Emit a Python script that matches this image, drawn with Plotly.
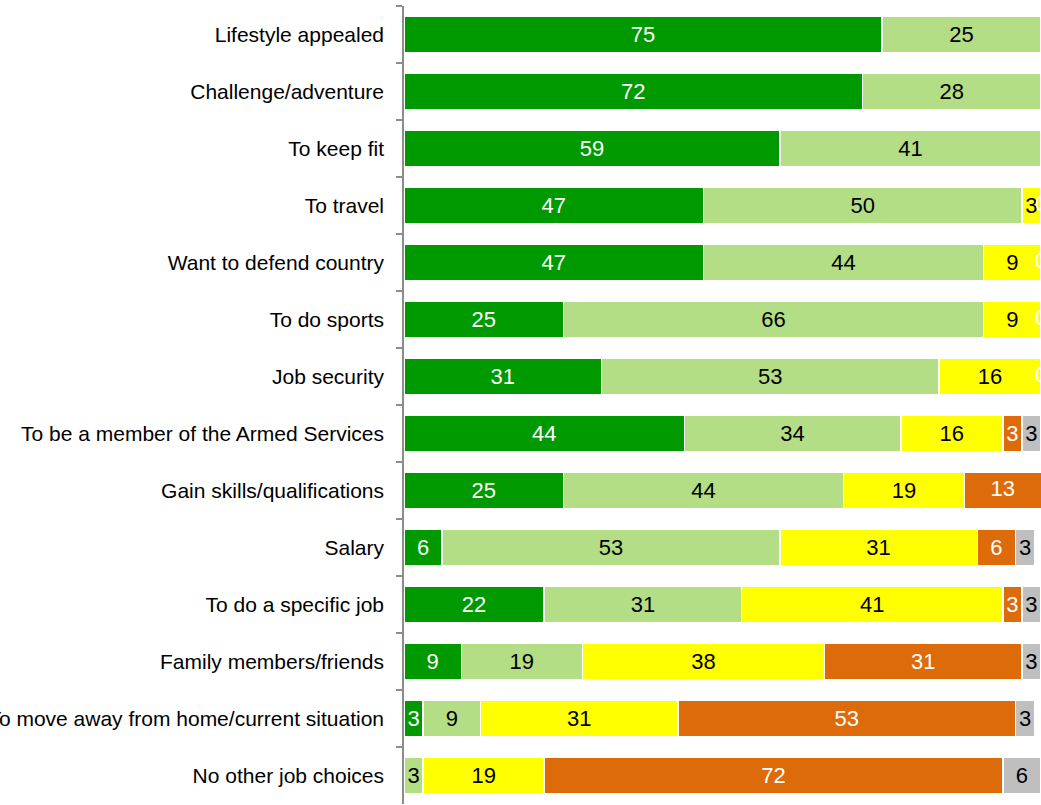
import plotly.graph_objects as go

# Reasons for joining, listed top to bottom
reasons = [
    "Lifestyle appealed",
    "Challenge/adventure",
    "To keep fit",
    "To travel",
    "Want to defend country",
    "To do sports",
    "Job security",
    "To be a member of the Armed Services",
    "Gain skills/qualifications",
    "Salary",
    "To do a specific job",
    "Family members/friends",
    "To move away from home/current situation",
    "No other job choices",
]

# Percentage of respondents per importance rating (None = no segment)
very_important = [75, 72, 59, 47, 47, 25, 31, 44, 25, 6, 22, 9, 3, None]
fairly_important = [25, 28, 41, 50, 44, 66, 53, 34, 44, 53, 31, 19, 9, 3]
not_very_important = [None, None, None, 3, 9, 9, 16, 16, 19, 31, 41, 38, 31, 19]
not_important = [None, None, None, 0, 0, 0, 0, 3, 13, 6, 3, 31, 53, 72]
dont_know = [None, None, None, None, None, None, None, 3, None, 3, 3, 3, 3, 6]

series = [
    ("Very important", very_important, "#009900", "white"),
    ("Fairly important", fairly_important, "#B3DE86", "black"),
    ("Not very important", not_very_important, "#FFFF00", "black"),
    ("Not important", not_important, "#DD6B0A", "white"),
    ("Don't know", dont_know, "#BFBFBF", "black"),
]

FONT = "Liberation Sans, Arial, sans-serif"
LABEL_SIZE = 22
X_MAX = 100

fig = go.Figure()
running = [0] * len(reasons)
# Labels placed separately: zero-width segments and segments running past the axis end
extra_x, extra_y, extra_txt, extra_col = [], [], [], []
for name, vals, color, txtcol in series:
    bar_text = []
    for i, v in enumerate(vals):
        start = running[i]
        end = start + (v or 0)
        if v is None:
            bar_text.append("")
        elif v == 0:
            bar_text.append("")
            extra_x.append(start)
            extra_y.append(reasons[i])
            extra_txt.append("0")
            extra_col.append(txtcol)
        elif end > X_MAX:
            bar_text.append("")
            extra_x.append((start + X_MAX) / 2)
            extra_y.append(reasons[i])
            extra_txt.append(str(v))
            extra_col.append(txtcol)
        else:
            bar_text.append(str(v))
        running[i] = end
    fig.add_trace(go.Bar(
        name=name,
        y=reasons,
        x=vals,
        orientation="h",
        marker=dict(color=color, line=dict(color="white", width=1.5)),
        text=bar_text,
        textposition="inside",
        insidetextanchor="middle",
        textangle=0,
        textfont=dict(family=FONT, size=LABEL_SIZE, color=txtcol),
        cliponaxis=False,
        hoverinfo="skip",
    ))

fig.add_trace(go.Scatter(
    x=extra_x, y=extra_y, mode="text", text=extra_txt,
    textfont=dict(family=FONT, size=LABEL_SIZE, color=extra_col),
    cliponaxis=False, hoverinfo="skip", showlegend=False,
))

fig.update_layout(
    barmode="stack",
    bargap=0.37,
    width=1041,
    height=805,
    margin=dict(l=404, r=0, t=6, b=1, pad=0),
    paper_bgcolor="white",
    plot_bgcolor="white",
    showlegend=False,
    uniformtext=dict(minsize=LABEL_SIZE, mode="show"),
    xaxis=dict(range=[0, X_MAX], showgrid=False, zeroline=False,
               showticklabels=False, showline=False, fixedrange=True),
    yaxis=dict(
        type="category",
        autorange="reversed",
        tickson="boundaries",
        ticks="outside",
        ticklen=6,
        tickwidth=1.5,
        tickcolor="#8C8C8C",
        ticklabelstandoff=14,
        showline=True,
        linecolor="#8C8C8C",
        linewidth=1.5,
        showgrid=False,
        automargin=False,
        tickfont=dict(family=FONT, size=21, color="black"),
    ),
)

fig.write_html("out.html")
